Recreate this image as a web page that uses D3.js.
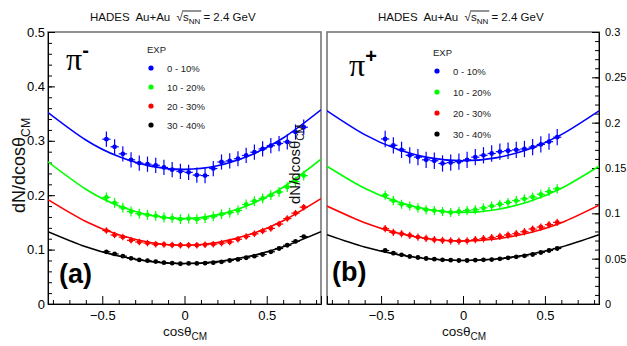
<!DOCTYPE html>
<html>
<head>
<meta charset="utf-8">
<script src="https://cdn.jsdelivr.net/npm/d3@7"></script>
<style>
body{margin:0;background:#fff;}
text{font-family:"Liberation Sans",Arial,sans-serif;}
</style>
</head>
<body>
<script>
var centralities=['0 - 10%','10 - 20%','20 - 30%','30 - 40%'];
var colors=['#0000ff','#00ff00','#ff0000','#000000'];

var binsA=[-0.475,-0.425,-0.375,-0.325,-0.275,-0.225,-0.175,-0.125,-0.075,-0.025,0.025,0.075,0.125,0.175,0.225,0.275,0.325,0.375,0.425,0.475,0.525,0.575,0.625,0.675,0.725];
var binsB=[-0.475,-0.425,-0.375,-0.325,-0.275,-0.225,-0.175,-0.125,-0.075,-0.025,0.025,0.075,0.125,0.175,0.225,0.275,0.325,0.375,0.425,0.475,0.525,0.575];

// pi- (a)
var pimC1=[0.303,0.289,0.276,0.265,0.259,0.257,0.255,0.251,0.247,0.244,0.242,0.237,0.236,0.249,0.261,0.263,0.267,0.273,0.279,0.285,0.291,0.295,0.298,0.316,0.325];
var pimC2=[0.196,0.186,0.177,0.170,0.166,0.164,0.162,0.159,0.158,0.156,0.157,0.156,0.158,0.161,0.165,0.168,0.172,0.183,0.189,0.194,0.200,0.206,0.215,0.225,0.236];
var pimC3=[0.135,0.127,0.123,0.117,0.114,0.112,0.110,0.1095,0.1085,0.108,0.108,0.108,0.109,0.110,0.112,0.114,0.119,0.124,0.129,0.134,0.139,0.147,0.157,0.167,0.178];
var pimC4=[0.096,0.092,0.088,0.084,0.081,0.0797,0.078,0.076,0.075,0.074,0.0745,0.0745,0.075,0.076,0.0775,0.080,0.082,0.085,0.088,0.091,0.096,0.102,0.108,0.115,0.124];
var pimErr=[0.014,0.009,0.006,0.003];

// pi+ (b)
var pipC1=[0.182,0.175,0.170,0.164,0.162,0.159,0.158,0.155,0.156,0.157,0.159,0.162,0.164,0.166,0.168,0.169,0.170,0.171,0.173,0.176,0.179,0.184];
var pipC2=[0.120,0.114,0.110,0.108,0.106,0.104,0.103,0.102,0.101,0.102,0.103,0.104,0.106,0.108,0.110,0.112,0.114,0.116,0.118,0.121,0.124,0.127];
var pipC3=[0.083,0.079,0.0775,0.0756,0.0738,0.0723,0.0709,0.0701,0.0697,0.0694,0.0697,0.0709,0.072,0.0731,0.0745,0.0761,0.0775,0.0797,0.0827,0.0849,0.0875,0.090];
var pipC4=[0.059,0.0561,0.0542,0.0524,0.0513,0.0502,0.0494,0.0487,0.0483,0.048,0.048,0.0483,0.0487,0.049,0.0498,0.0509,0.052,0.0531,0.0546,0.0568,0.059,0.0612];
var pipErr=[0.009,0.005,0.004,0.002];

// fit curves read at a few cos values
var fitX=[-0.83,-0.6,-0.4,-0.2,0,0.2,0.4,0.6,0.83];
var pimFit1=[0.352,0.3015,0.271,0.253,0.2475,0.2541,0.2735,0.3051,0.357];
var pimFit2=[0.2613,0.211,0.1806,0.1626,0.157,0.1638,0.183,0.2146,0.2663];
var pimFit3=[0.1919,0.1517,0.1273,0.1127,0.108,0.1131,0.1281,0.1529,0.1936];
var pimFit4=[0.133,0.1051,0.0881,0.0779,0.0745,0.0779,0.0881,0.1051,0.133];
var pipFit1=[0.2131,0.1868,0.1708,0.1612,0.158,0.1612,0.1708,0.1868,0.2131];
var pipFit2=[0.152,0.1276,0.1128,0.104,0.101,0.104,0.1128,0.1276,0.152];
var pipFit3=[0.108,0.0896,0.0784,0.0717,0.0695,0.0717,0.0784,0.0896,0.109];
var pipFit4=[0.0764,0.0628,0.0546,0.0496,0.048,0.0496,0.0546,0.0628,0.0764];

var xMajor=[-0.5,0,0.5];
var xMinor=[-0.8,-0.7,-0.6,-0.4,-0.3,-0.2,-0.1,0.1,0.2,0.3,0.4,0.6,0.7,0.8];
var yTicksA=[0,0.1,0.2,0.3,0.4,0.5];
var yTicksB=[0,0.05,0.1,0.15,0.2,0.25,0.3];

var width=627,height=346;
var svg=d3.select('body').append('svg')
  .attr('width',width).attr('height',height);

function minorList(max,step){
  var out=[];
  for(var v=step;v<max-1e-9;v+=step){out.push(+v.toFixed(3));}
  return out;
}

function xFmt(d){
  if(d===0) return '0';
  return (d<0?'\u2212':'')+Math.abs(d);
}

function drawPanel(p){
  var x=d3.scaleLinear().domain([-0.83,0.83]).range([p.x0,p.x1]);
  var y=d3.scaleLinear().domain([0,p.ymax]).range([304,32]);
  var g=svg.append('g');

  g.append('clipPath').attr('id','clip'+p.id)
    .append('rect').attr('x',p.x0).attr('y',32).attr('width',p.x1-p.x0).attr('height',272);

  g.append('rect')
    .attr('x',p.x0).attr('y',32).attr('width',p.x1-p.x0).attr('height',272)
    .attr('fill','none').attr('stroke','#777').attr('stroke-width',1.6);

  // x axis
  var xa=g.append('g').attr('transform','translate(0,304)')
    .call(d3.axisBottom(x).tickValues(xMajor).tickSize(-8).tickPadding(7).tickFormat(xFmt));
  xa.selectAll('text').style('font-size','13px').attr('fill','#000');
  g.append('g').attr('transform','translate(0,304)')
    .call(d3.axisBottom(x).tickValues(xMinor).tickSize(-4).tickFormat(''))
    .select('.domain').remove();

  // y axis
  var yAxis=p.right?d3.axisRight(y):d3.axisLeft(y);
  var ya=g.append('g').attr('transform','translate('+(p.right?p.x1:p.x0)+',0)')
    .call(yAxis.tickValues(p.yticks).tickSize(-7).tickPadding(p.right?6:3).tickFormat(function(d){return d===0?'0':String(+d.toFixed(2));}));
  ya.selectAll('text').style('font-size',p.right?'11px':'13px').attr('fill','#000');
  var yMinorAxis=p.right?d3.axisRight(y):d3.axisLeft(y);
  g.append('g').attr('transform','translate('+(p.right?p.x1:p.x0)+',0)')
    .call(yMinorAxis.tickValues(minorList(p.ymax,p.ymax===0.5?0.02:0.01)).tickSize(-4).tickFormat(''))
    .select('.domain').remove();

  // fits
  var line=d3.line().x(function(d,i){return x(fitX[i]);}).y(function(d){return y(d);}).curve(d3.curveNatural);
  var plot=g.append('g').attr('clip-path','url(#clip'+p.id+')');
  p.fits.forEach(function(f,k){
    plot.append('path').attr('d',line(f))
      .attr('fill','none').attr('stroke',colors[k]).attr('stroke-width',1.6);
  });

  // points
  p.series.forEach(function(s,k){
    var pts=plot.append('g').selectAll('g').data(s).enter().append('g');
    pts.append('line')
      .attr('x1',function(d,i){return x(p.bins[i]);})
      .attr('x2',function(d,i){return x(p.bins[i]);})
      .attr('y1',function(d){return y(d-p.errs[k]);})
      .attr('y2',function(d){return y(d+p.errs[k]);})
      .attr('stroke',colors[k]).attr('stroke-width',1.2);
    pts.append('line')
      .attr('x1',function(d,i){return x(p.bins[i]-0.025);})
      .attr('x2',function(d,i){return x(p.bins[i]+0.025);})
      .attr('y1',function(d){return y(d);})
      .attr('y2',function(d){return y(d);})
      .attr('stroke',colors[k]).attr('stroke-width',1.2);
    pts.append('circle')
      .attr('cx',function(d,i){return x(p.bins[i]);})
      .attr('cy',function(d){return y(d);})
      .attr('r',2.4).attr('fill',colors[k]);
  });

  // legend
  var lg=g.append('g');
  lg.append('text').attr('x',p.lx-4).attr('y',p.ly-15).text('EXP')
    .style('font-size','9.5px').attr('fill','#222');
  centralities.forEach(function(c,k){
    var yy=p.ly+k*p.lstep;
    lg.append('circle').attr('cx',p.lx).attr('cy',yy).attr('r',2.6).attr('fill',colors[k]);
    lg.append('text').attr('x',p.lx+16).attr('y',yy+3.5).text(c)
      .style('font-size','9.5px').attr('fill','#222');
  });

  // particle label
  var pl=g.append('text').attr('x',p.px).attr('y',p.py)
    .style('font-family','"Liberation Serif","Times New Roman",serif').style('font-size','32px');
  pl.append('tspan').text('\u03c0');
  pl.append('tspan').attr('dy',-13).style('font-size','20px').style('font-family','"Liberation Sans",Arial,sans-serif').style('font-weight','bold').text(p.charge);

  g.append('text').attr('x',p.tagx).attr('y',p.tagy)
    .style('font-size','27px').style('font-weight','bold').text(p.tag);

  // title
  var t=g.append('text').attr('x',p.tx).attr('y',21)
    .style('font-size','11.5px').style('white-space','pre').attr('fill','#111');
  t.append('tspan').text('HADES  Au+Au  \u221a');
  t.append('tspan').text('s');
  t.append('tspan').attr('dy',3).style('font-size','8px').text('NN');
  t.append('tspan').attr('dy',-3).text(' = 2.4 GeV');
  var node=t.node();
  var s0=node.getStartPositionOfChar(15).x;
  var s1=node.getEndPositionOfChar(17).x;
  g.append('line').attr('x1',s0-1).attr('x2',s1+1).attr('y1',11).attr('y2',11)
    .attr('stroke','#111').attr('stroke-width',0.9);

  // x title
  var xt=g.append('text').attr('x',p.xtx).attr('y',336)
    .style('font-size','13.5px').attr('fill','#111');
  xt.append('tspan').text('cos\u03b8');
  xt.append('tspan').attr('dy',4).style('font-size','10px').text('CM');

  // y title
  var yt=g.append('text').attr('transform','translate('+p.ytx+','+p.yty+') rotate(-90)')
    .style('font-size',p.ysize+'px').attr('fill','#111');
  yt.append('tspan').text('dN/dcos\u03b8');
  yt.append('tspan').attr('dy',p.ysize*0.25).style('font-size',(p.ysize*0.68)+'px').text('CM');
}

drawPanel({id:'a',x0:48,x1:321,ymax:0.5,yticks:yTicksA,right:false,bins:binsA,
  series:[pimC1,pimC2,pimC3,pimC4],errs:pimErr,fits:[pimFit1,pimFit2,pimFit3,pimFit4],
  lx:151,ly:68,lstep:19,px:66,py:70,charge:'-',tag:'(a)',tagx:59,tagy:283,
  tx:90,xtx:163,ytx:25,yty:213,ysize:18});

drawPanel({id:'b',x0:327,x1:599,ymax:0.3,yticks:yTicksB,right:true,bins:binsB,
  series:[pipC1,pipC2,pipC3,pipC4],errs:pipErr,fits:[pipFit1,pipFit2,pipFit3,pipFit4],
  lx:437,ly:71,lstep:21,px:349,py:76,charge:'+',tag:'(b)',tagx:332,tagy:281,
  tx:378,xtx:442,ytx:300,yty:204,ysize:15});
</script>
</body>
</html>
